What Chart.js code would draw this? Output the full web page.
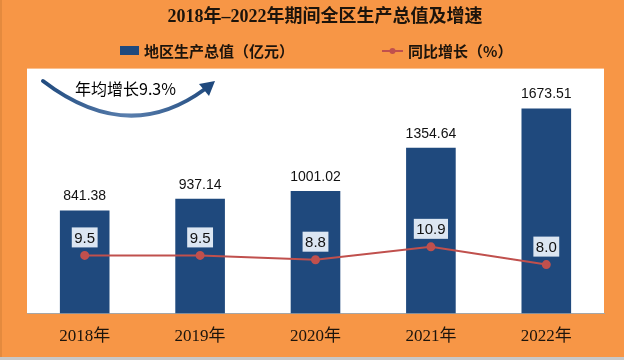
<!DOCTYPE html>
<html>
<head>
<meta charset="utf-8">
<script src="https://cdn.jsdelivr.net/npm/chart.js@4.4.1/dist/chart.umd.min.js"></script>
<style>
  html, body { margin: 0; padding: 0; background: #F79646; }
  canvas { display: block; }
</style>
</head>
<body>
<canvas id="chart" width="624" height="360"></canvas>
<script>
// data
var years = ['2018年', '2019年', '2020年', '2021年', '2022年'];
var gdpValues = [841.38, 937.14, 1001.02, 1354.64, 1673.51];
var growthRates = [9.5, 9.5, 8.8, 10.9, 8.0];
var gdpLabel = '地区生产总值（亿元）';
var growthLabel = '同比增长（%）';
var avgGrowthText = '年均增长9.3%';

var ORANGE = '#F79646';
var NAVY = '#1F497D';
var RED = '#C0504D';
var INK = '#1c140c';
var CJK = '"Noto Sans CJK SC"';

// orange frame + white plot area
var backgroundPlugin = {
    id: 'background',
    beforeDraw: function(chart) {
        var ctx = chart.ctx;
        var area = chart.chartArea;
        ctx.save();
        ctx.fillStyle = ORANGE;
        ctx.fillRect(0, 0, chart.width, chart.height);
        ctx.fillStyle = '#e48a3e';
        ctx.fillRect(0, 0, 2, chart.height);
        ctx.fillStyle = '#c8c8c8';
        ctx.fillRect(0, 357, chart.width, 3);
        ctx.fillStyle = '#ffffff';
        ctx.fillRect(area.left, area.top, area.right - area.left, area.bottom - area.top);
        ctx.restore();
    }
};

// legend drawn by hand so the items sit where the original has them
var legendPlugin = {
    id: 'handLegend',
    afterDraw: function(chart) {
        var ctx = chart.ctx;
        var y = 51;
        ctx.save();
        ctx.font = 'bold 15px ' + CJK;
        ctx.textBaseline = 'middle';
        ctx.textAlign = 'left';

        ctx.fillStyle = NAVY;
        ctx.fillRect(120, 46, 19, 9);
        ctx.fillStyle = INK;
        ctx.fillText(gdpLabel, 144, y);

        ctx.strokeStyle = RED;
        ctx.lineWidth = 2;
        ctx.beginPath();
        ctx.moveTo(382, y);
        ctx.lineTo(403, y);
        ctx.stroke();
        ctx.fillStyle = RED;
        ctx.beginPath();
        ctx.arc(392.5, y, 3, 0, Math.PI * 2);
        ctx.fill();
        ctx.fillStyle = INK;
        ctx.fillText(growthLabel, 408, y);
        ctx.restore();
    }
};

// value labels on bars and boxed labels on the line points
var labelPlugin = {
    id: 'valueLabels',
    afterDatasetsDraw: function(chart) {
        var ctx = chart.ctx;
        ctx.save();
        ctx.textAlign = 'center';
        ctx.textBaseline = 'middle';

        var barMeta = chart.getDatasetMeta(1);
        ctx.font = '14px "Liberation Sans"';
        ctx.fillStyle = '#111111';
        barMeta.data.forEach(function(bar, i) {
            ctx.fillText(gdpValues[i].toFixed(2), bar.x, bar.y - 14);
        });

        var lineMeta = chart.getDatasetMeta(0);
        ctx.font = '15px "Liberation Sans"';
        lineMeta.data.forEach(function(pt, i) {
            var txt = growthRates[i].toFixed(1);
            var w = ctx.measureText(txt).width + 5;
            var cy = pt.y - 18;
            ctx.fillStyle = '#DCE6F2';
            ctx.fillRect(pt.x - w / 2, cy - 10, w, 20);
            ctx.fillStyle = '#111111';
            ctx.fillText(txt, pt.x, cy + 1);
        });
        ctx.restore();
    }
};

// curved arrow with the average growth note
var arrowPlugin = {
    id: 'avgArrow',
    afterDraw: function(chart) {
        var ctx = chart.ctx;
        ctx.save();
        var grad = ctx.createLinearGradient(40, 0, 215, 0);
        grad.addColorStop(0, '#1F497D');
        grad.addColorStop(0.5, '#5a7fae');
        grad.addColorStop(1, '#1F497D');
        ctx.strokeStyle = grad;
        ctx.lineWidth = 4;
        ctx.lineCap = 'round';
        ctx.beginPath();
        ctx.moveTo(43, 81);
        ctx.quadraticCurveTo(128, 146, 205, 89);
        ctx.stroke();

        ctx.fillStyle = NAVY;
        ctx.beginPath();
        ctx.moveTo(215, 81);
        ctx.lineTo(199, 84);
        ctx.lineTo(209, 96);
        ctx.closePath();
        ctx.fill();

        ctx.fillStyle = '#000000';
        ctx.font = '16px ' + CJK;
        ctx.textAlign = 'left';
        ctx.textBaseline = 'middle';
        ctx.fillText(avgGrowthText, 75, 89);
        ctx.restore();
    }
};

var ctx = document.getElementById('chart').getContext('2d');
var chart = new Chart(ctx, {
    type: 'bar',
    data: {
        labels: years,
        datasets: [
            {
                type: 'line',
                label: growthLabel,
                data: growthRates,
                yAxisID: 'y1',
                order: 0,
                borderColor: RED,
                borderWidth: 2,
                pointRadius: 3.5,
                pointBackgroundColor: RED,
                pointBorderColor: RED,
                tension: 0
            },
            {
                type: 'bar',
                label: gdpLabel,
                data: gdpValues,
                yAxisID: 'y',
                order: 1,
                backgroundColor: NAVY,
                barPercentage: 0.43,
                categoryPercentage: 1
            }
        ]
    },
    options: {
        responsive: false,
        animation: false,
        layout: {
            padding: { left: 27, right: 1, top: 0, bottom: 0 }
        },
        plugins: {
            legend: { display: false },
            tooltip: { enabled: false },
            title: {
                display: true,
                text: '2018年–2022年期间全区生产总值及增速',
                color: INK,
                font: { family: '"Liberation Serif", ' + CJK, size: 18, weight: 'bold' },
                padding: { top: 7, bottom: 40 }
            }
        },
        scales: {
            x: {
                grid: { display: false, drawTicks: false },
                border: { display: true, color: '#a6a6a6', width: 1 },
                ticks: {
                    color: INK,
                    padding: 13,
                    font: { family: '"Liberation Serif", ' + CJK, size: 17 }
                }
            },
            y: {
                display: false,
                min: 0,
                max: 2000
            },
            y1: {
                display: true,
                position: 'right',
                min: 0,
                max: 40,
                grid: { display: false, drawTicks: false },
                border: { display: false },
                ticks: { display: false },
                afterFit: function(scale) { scale.width = 19; }
            }
        }
    },
    plugins: [backgroundPlugin, labelPlugin, arrowPlugin, legendPlugin]
});
</script>
</body>
</html>
